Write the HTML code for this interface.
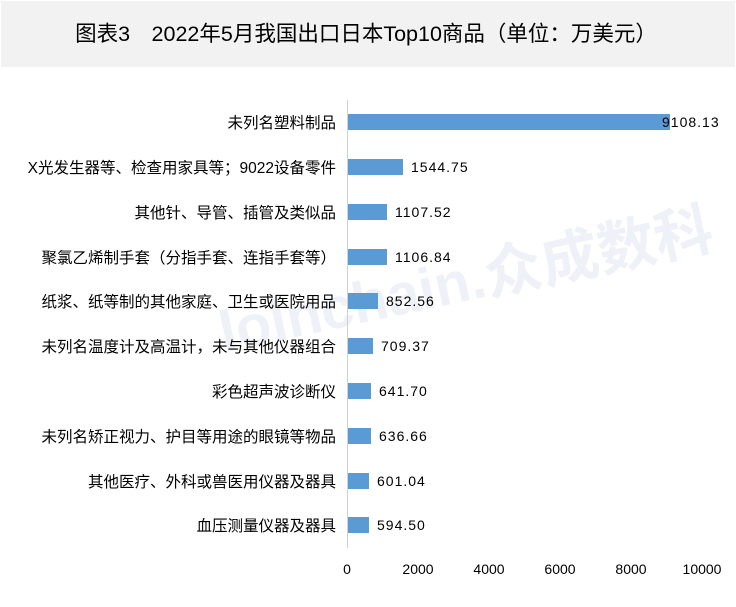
<!DOCTYPE html><html><head><meta charset="utf-8"><style>body{margin:0;background:#fff}svg{display:block}text{font-family:"Liberation Sans","Noto Sans CJK SC",sans-serif}</style></head><body>
<svg width="736" height="607" xmlns="http://www.w3.org/2000/svg">
<rect x="1" y="1" width="734" height="66" fill="#f2f2f2"/>
<text x="366" y="41" font-size="21.5" text-anchor="middle" fill="#000">图表3　2022年5月我国出口日本Top10商品（单位：万美元）</text>
<text x="470" y="300" font-size="58" font-weight="bold" fill="#eef1f7" text-anchor="middle" transform="rotate(-12 470 300)">lolnchain.众成数科</text>
<line x1="347.5" y1="100" x2="347.5" y2="548" stroke="#d0d0d0"/>
<g font-size="14" fill="#000" text-anchor="middle">
<text x="347" y="574">0</text><text x="418" y="574">2000</text><text x="489" y="574">4000</text><text x="560" y="574">6000</text><text x="631" y="574">8000</text><text x="702" y="574">10000</text>
</g>
<g font-size="15.5">
<rect x="348" y="114" width="322" height="16" fill="#5b9bd5"/><text x="336" y="128" text-anchor="end">未列名塑料制品</text><text x="662" y="127" font-size="14" letter-spacing="1">9108.13</text>
<rect x="348" y="159" width="55" height="16" fill="#5b9bd5"/><text x="336" y="173" text-anchor="end">X光发生器等、检查用家具等；9022设备零件</text><text x="411" y="172" font-size="14" letter-spacing="1">1544.75</text>
<rect x="348" y="204" width="39" height="16" fill="#5b9bd5"/><text x="336" y="218" text-anchor="end">其他针、导管、插管及类似品</text><text x="395" y="217" font-size="14" letter-spacing="1">1107.52</text>
<rect x="348" y="249" width="39" height="16" fill="#5b9bd5"/><text x="336" y="263" text-anchor="end">聚氯乙烯制手套（分指手套、连指手套等）</text><text x="395" y="262" font-size="14" letter-spacing="1">1106.84</text>
<rect x="348" y="293" width="30" height="16" fill="#5b9bd5"/><text x="336" y="307" text-anchor="end">纸浆、纸等制的其他家庭、卫生或医院用品</text><text x="386" y="306" font-size="14" letter-spacing="1">852.56</text>
<rect x="348" y="338" width="25" height="16" fill="#5b9bd5"/><text x="336" y="352" text-anchor="end">未列名温度计及高温计，未与其他仪器组合</text><text x="381" y="351" font-size="14" letter-spacing="1">709.37</text>
<rect x="348" y="383" width="23" height="16" fill="#5b9bd5"/><text x="336" y="397" text-anchor="end">彩色超声波诊断仪</text><text x="379" y="396" font-size="14" letter-spacing="1">641.70</text>
<rect x="348" y="428" width="23" height="16" fill="#5b9bd5"/><text x="336" y="442" text-anchor="end">未列名矫正视力、护目等用途的眼镜等物品</text><text x="379" y="441" font-size="14" letter-spacing="1">636.66</text>
<rect x="348" y="473" width="21" height="16" fill="#5b9bd5"/><text x="336" y="487" text-anchor="end">其他医疗、外科或兽医用仪器及器具</text><text x="377" y="486" font-size="14" letter-spacing="1">601.04</text>
<rect x="348" y="517" width="21" height="16" fill="#5b9bd5"/><text x="336" y="531" text-anchor="end">血压测量仪器及器具</text><text x="377" y="530" font-size="14" letter-spacing="1">594.50</text>
</g>
</svg></body></html>
